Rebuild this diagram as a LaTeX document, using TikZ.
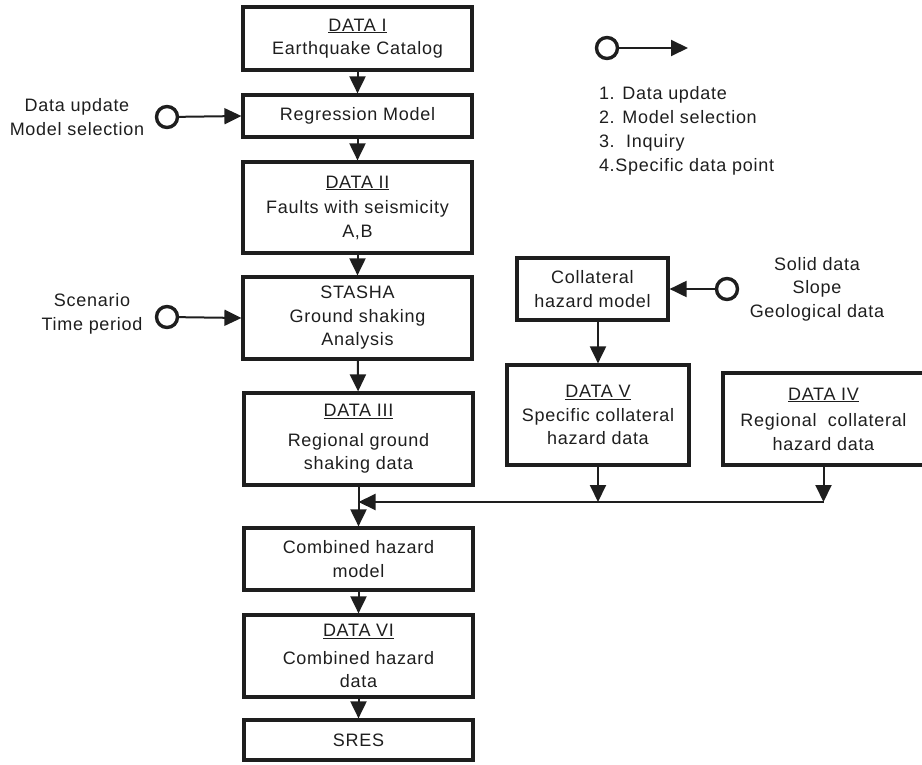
\documentclass[tikz,border=0pt]{standalone}
\usepackage{fontspec}
\setmainfont{Liberation Sans}[LetterSpace=4]
\usetikzlibrary{arrows.meta, positioning, calc}
\definecolor{cink}{HTML}{1E1E1E}
\tikzset{
  every picture/.style={font=\fontsize{18}{23.5}\selectfont, line width=2pt, color=cink},
  box/.style={draw=cink, line width=3.2pt, align=center, inner sep=0pt, minimum width=#1},
  box/.default=229pt,
  flow/.style={-{Triangle[length=17pt, width=16pt]}, draw=cink, line width=2pt},
  knob/.style={circle, draw=cink, line width=3.4pt, minimum size=21pt, inner sep=0pt},
  lbl/.style={align=center, inner sep=0pt},
}

\begin{document}
\begin{tikzpicture}[x=1pt, y=-1pt]
  \useasboundingbox (0,0) rectangle (922,765);
  % main column
  \node[box, minimum height=63pt] (data1) at (357.5, 38.5) {\underline{DATA I}\\Earthquake Catalog};
  \node[box, minimum height=42pt] (regr) at (357.5, 116) {Regression Model};
  \node[box, minimum height=91pt] (data2) at (357.5, 207.5) {\underline{DATA II}\\[2pt]Faults with seismicity\\A,B};
  \node[box, minimum height=82pt] (stasha) at (357.5, 318) {STASHA\\Ground shaking\\Analysis};
  \node[box, minimum height=92pt] (data3) at (358.5, 439) {\underline{DATA III}\\[6pt]Regional ground\\shaking data};
  \node[box, minimum height=62pt] (comb) at (358.5, 559) {Combined hazard\\model};
  \node[box, minimum height=82pt] (data6) at (358.5, 656) {\underline{DATA VI}\\[4pt]Combined hazard\\data};
  \node[box, minimum height=40pt] (sres) at (358.5, 740) {SRES};
  % collateral branch
  \node[box=151pt, minimum height=62pt] (coll) at (592.5, 289) {Collateral\\hazard model};
  \node[box=182pt, minimum height=100pt] (data5) at (598, 415) {\underline{DATA V}\\Specific collateral\\hazard data};
  \node[box=201pt, minimum height=92pt] (data4) at (823.5, 419) {\underline{DATA IV}\\[3pt]Regional\ \ collateral\\hazard data};
  % inputs
  \node[lbl] (upd) at (77, 117) {Data update\\Model selection};
  \node[knob] (kupd) at (167, 117) {};
  \node[lbl] (scen) at (92, 314) {Scenario\\Time period};
  \node[knob] (kscen) at (167, 317) {};
  \node[knob] (kcoll) at (727, 289) {};
  \node[lbl] (soil) at (817, 289) {Solid data\\Slope\\Geological data};
  % legend
  \node[knob] (kkey) at (607, 48) {};
  \coordinate (keyend) at (688, 48);
  \node[lbl, align=left, anchor=north west, font=\fontsize{18}{24}\selectfont] (keytext) at (598, 85) {1. Data update\\2. Model selection\\3.\ \ Inquiry\\4.Specific data point};
  % merge points
  \coordinate (merge) at (358.5, 502);
  \coordinate (tap5) at (598, 502);
  \coordinate (tap4) at (823.5, 502);
  % connectors
  \draw[flow] (data1) -- (regr);
  \draw[flow] (regr) -- (data2);
  \draw[flow] (data2) -- (stasha);
  \draw[flow] (stasha) -- (data3);
  \draw[flow] (data3) -- (comb);
  \draw[flow] (comb) -- (data6);
  \draw[flow] (data6) -- (sres);
  \draw[flow] (kupd) -- (regr.west);
  \draw[flow] (kscen) -- (stasha.west);
  \draw[flow] (kcoll) -- (coll.east);
  \draw[flow] (kkey) -- (keyend);
  \draw[flow] (data5.north |- coll.south) -- (data5.north);
  \draw[flow] (data5) -- (tap5);
  \draw[flow] (data4) -- (tap4);
  \draw[flow] (tap4) -- (merge);
\end{tikzpicture}
\end{document}
